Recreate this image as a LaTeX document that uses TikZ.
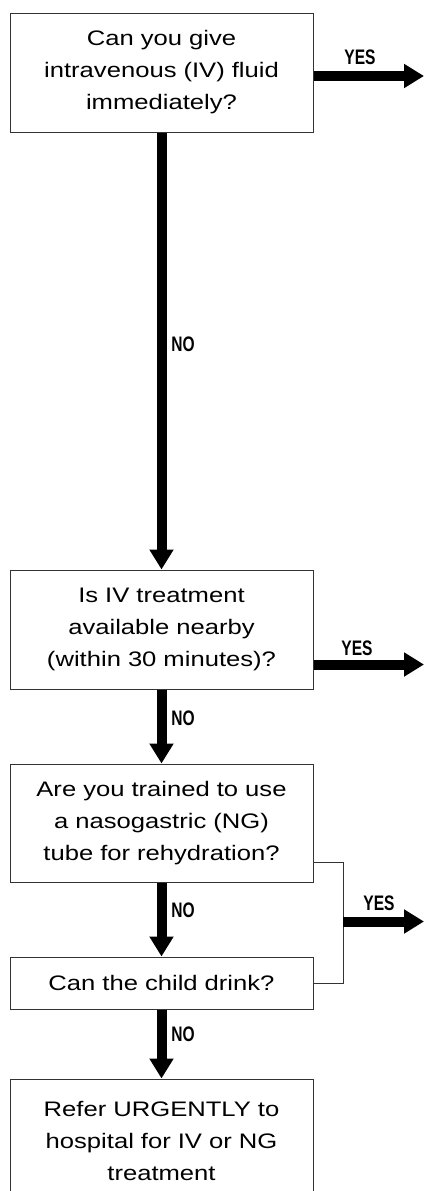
\documentclass[tikz,border=0pt]{standalone}
\usepackage{fontspec}
\setmainfont{Liberation Sans}[FakeStretch=1.22]
\newfontfamily\lblfont{Liberation Sans Bold}[FakeStretch=0.74]
\usetikzlibrary{arrows.meta,calc}
\begin{document}
\begin{tikzpicture}[x=1pt,y=-1pt,
  box/.style={draw=black!80,line width=1pt,minimum width=303pt,inner sep=0pt,
    align=center,text width=300pt,font=\fontsize{21}{32}\selectfont},
  flow/.style={line width=10pt,-{Triangle[width=23pt,length=20pt]}},
  lbl/.style={font=\lblfont\fontsize{21}{21}\selectfont,inner sep=0pt},
  thinline/.style={draw=black!80,line width=1pt}]
\useasboundingbox (0,0) rectangle (426,1191);
% boxes
\node[box,minimum height=119pt] (b1) at (161.5,72.5) {Can you give\\intravenous (IV) fluid\\immediately?};
\node[box,minimum height=119pt] (b2) at (161.5,629.5) {Is IV treatment\\available nearby\\(within 30 minutes)?};
\node[box,minimum height=118pt] (b3) at (161.5,823) {Are you trained to use\\a nasogastric (NG)\\tube for rehydration?};
\node[box,minimum height=52pt] (b4) at (161.5,983) {Can the child drink?};
\node[box,minimum height=124pt] (b5) at (161.5,1141) {Refer URGENTLY to\\hospital for IV or NG\\treatment};
% NO arrows
\draw[flow] (b1.south) -- (b2.north);
\draw[flow] (b2.south) -- (b3.north);
\draw[flow] (b3.south) -- (b4.north);
\draw[flow] (b4.south) -- (b5.north);
% YES arrows
\coordinate (y1) at (424,76);
\coordinate (y2) at (424,664.5);
\coordinate (y3) at (424,921.5);
\draw[flow] (b1.east |- y1) -- (y1);
\draw[flow] (b2.east |- y2) -- (y2);
\coordinate (brtop) at (343,862);
\coordinate (brbot) at (343,983);
\draw[thinline] (b3.east |- brtop) -- (brtop) -- (brbot) -- (b4.east |- brbot);
\draw[flow] (brtop |- y3) -- (y3);
% labels
\node[lbl] (yes1) at (360,57) {YES};
\node[lbl] (yes2) at (357,648) {YES};
\node[lbl] (yes3) at (379,903) {YES};
\node[lbl] (no1) at (183,344) {NO};
\node[lbl] (no2) at (183,718) {NO};
\node[lbl] (no3) at (183,910.5) {NO};
\node[lbl] (no4) at (183,1034.5) {NO};
\end{tikzpicture}
\end{document}
